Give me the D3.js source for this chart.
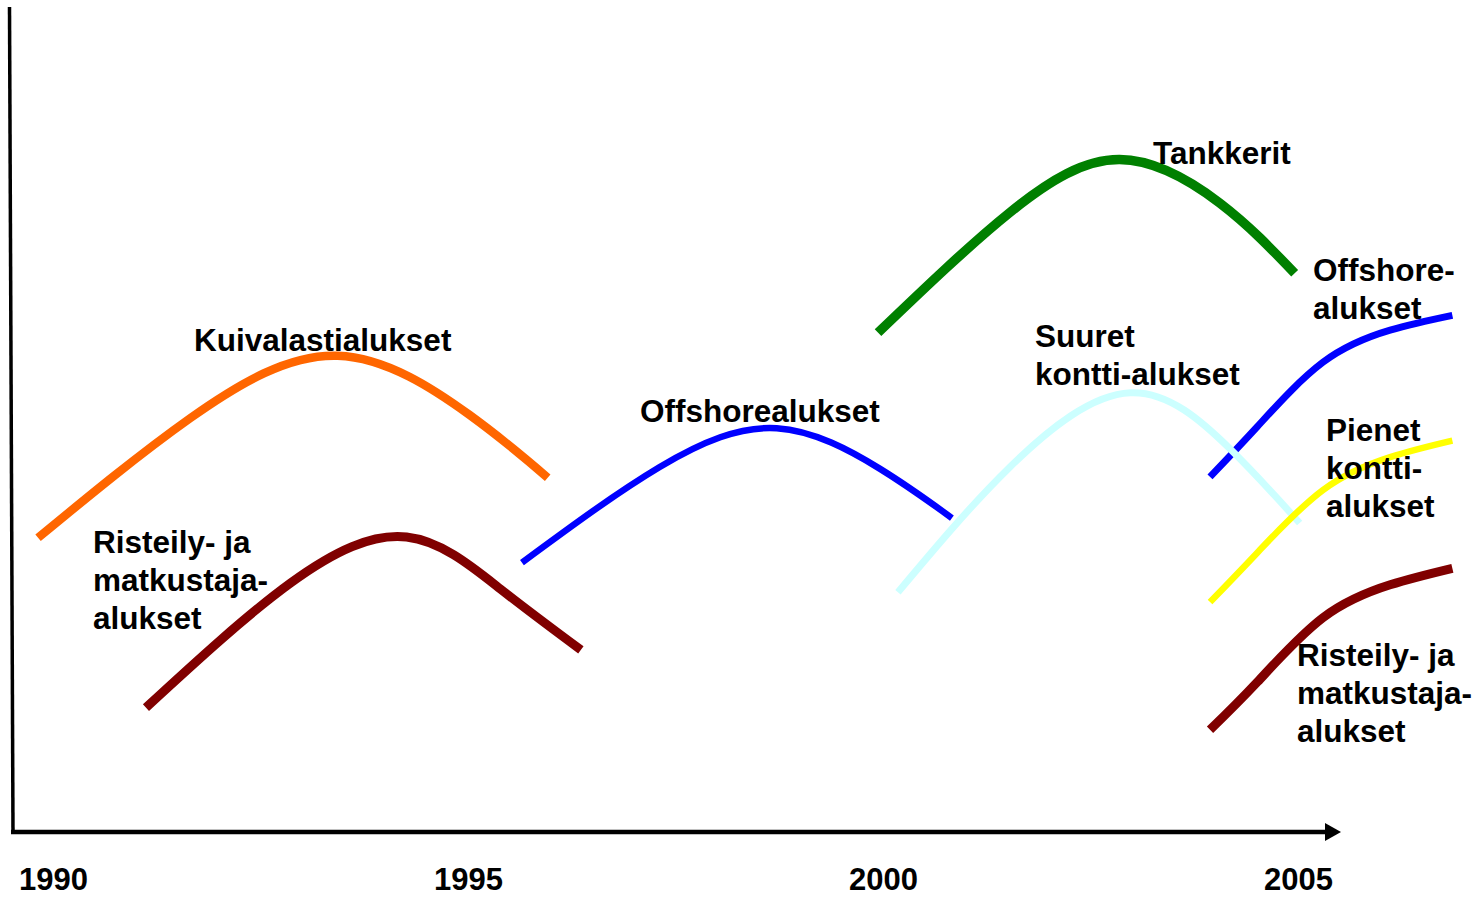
<!DOCTYPE html>
<html>
<head>
<meta charset="utf-8">
<script src="https://cdn.jsdelivr.net/npm/d3@7"></script>
<style>
  html, body { margin: 0; padding: 0; background: #fff; }
  svg { display: block; }
  text { font-family: "Liberation Sans", Arial, Helvetica, sans-serif; font-weight: bold; fill: #000; }
</style>
</head>
<body>
<svg id="chart" width="1480" height="897"></svg>
<script>
// ---- data: [year, index value] ----
const tickYears = [1990, 1995, 2000, 2005];
const tickLabels = ["1990", "1995", "2000", "2005"];

const kuivalastiYears  = [1989.82, 1991.65, 1993.43, 1995.02, 1995.96];
const kuivalastiValues = [35.7, 50.2, 57.8, 50.6, 43.0];

const risteily1Years  = [1991.12, 1992.86, 1994.26, 1995.39, 1996.36];
const risteily1Values = [15.1, 30.2, 35.8, 29.5, 22.1];

const offshore1Years  = [1995.65, 1997.31, 1998.72, 1999.96, 2000.83];
const offshore1Values = [32.7, 44.3, 49.0, 44.1, 38.1];

const tankkeritYears  = [1999.94, 2001.53, 2002.85, 2004.06, 2004.96];
const tankkeritValues = [60.6, 75.2, 81.6, 76.3, 67.8];

const suuretYears  = [2000.18, 2001.53, 2002.98, 2004.18, 2005.02];
const suuretValues = [29.1, 44.3, 53.3, 46.5, 37.5];

const offshore2Years  = [2003.94, 2004.51, 2005.30, 2006.11, 2006.86];
const offshore2Values = [43.1, 49.2, 57.0, 60.9, 62.7];

const pienetYears  = [2003.94, 2004.51, 2005.30, 2006.11, 2006.86];
const pienetValues = [27.9, 33.9, 41.5, 45.5, 47.5];

const risteily2Years  = [2003.94, 2004.51, 2005.30, 2006.11, 2006.86];
const risteily2Values = [12.4, 18.2, 26.0, 30.0, 32.0];

const seriesNames = ["Kuivalastialukset", "Risteily- ja matkustaja-alukset", "Offshorealukset", "Tankkerit",
                     "Offshore-alukset", "Suuret kontti-alukset", "Pienet kontti-alukset", "Risteily- ja matkustaja-alukset (2)"];

// ---- layout ----
const svg = d3.select("#chart");
const x = d3.scaleLinear().domain([1990, 2005]).range([53, 1298]);
const y = d3.scaleLinear().domain([0, 100]).range([832, 8]);

const zip = (xs, vs) => xs.map((d, i) => [d, vs[i]]);
const series = [
  { name: seriesNames[0], data: zip(kuivalastiYears, kuivalastiValues), color: "#FF6600", w: 8.5 },
  { name: seriesNames[1], data: zip(risteily1Years, risteily1Values), color: "#800000", w: 9 },
  { name: seriesNames[2], data: zip(offshore1Years, offshore1Values), color: "#0000FF", w: 6.5 },
  { name: seriesNames[3], data: zip(tankkeritYears, tankkeritValues), color: "#008000", w: 9.5 },
  { name: seriesNames[4], data: zip(offshore2Years, offshore2Values), color: "#0000FF", w: 7 },
  { name: seriesNames[5], data: zip(suuretYears, suuretValues), color: "#CCFFFF", w: 7 },
  { name: seriesNames[6], data: zip(pienetYears, pienetValues), color: "#FFFF00", w: 6.5 },
  { name: seriesNames[7], data: zip(risteily2Years, risteily2Values), color: "#800000", w: 9 }
];

const line = d3.line()
  .x(d => x(d[0]))
  .y(d => y(d[1]))
  .curve(d3.curveNatural);

svg.append("g").selectAll("path")
  .data(series)
  .join("path")
  .attr("d", d => line(d.data))
  .attr("fill", "none")
  .attr("stroke", d => d.color)
  .attr("stroke-width", d => d.w)
  .attr("stroke-linecap", "butt")
  .attr("stroke-linejoin", "round");

// ---- axes ----
svg.append("line")
  .attr("x1", 9.5).attr("y1", 7)
  .attr("x2", 13).attr("y2", 833)
  .attr("stroke", "#000").attr("stroke-width", 3.5);

svg.append("line")
  .attr("x1", 11).attr("y1", 832)
  .attr("x2", 1327).attr("y2", 832)
  .attr("stroke", "#000").attr("stroke-width", 4.5);

svg.append("path")
  .attr("d", "M1325,823 L1341,832 L1325,841 Z")
  .attr("fill", "#000");

// x tick labels through axis generator
const xAxis = d3.axisBottom(x)
  .tickValues(tickYears)
  .tickFormat((d, i) => tickLabels[i])
  .tickSize(0)
  .tickPadding(0);
const gx = svg.append("g").attr("transform", "translate(0,868)").call(xAxis);
gx.select(".domain").remove();
gx.selectAll("text")
  .attr("dy", "0.72em")
  .attr("font-size", 31)
  .style("font-family", '"Liberation Sans", Arial, sans-serif')
  .style("font-weight", "bold")
  .attr("fill", "#000");

// ---- labels ----
const labels = [
  { lines: ["Kuivalastialukset"], x: 194, y: 351 },
  { lines: ["Risteily- ja", "matkustaja-", "alukset"], x: 93, y: 553 },
  { lines: ["Offshorealukset"], x: 640, y: 422 },
  { lines: ["Tankkerit"], x: 1153, y: 164 },
  { lines: ["Suuret", "kontti-alukset"], x: 1035, y: 347 },
  { lines: ["Offshore-", "alukset"], x: 1313, y: 281 },
  { lines: ["Pienet", "kontti-", "alukset"], x: 1326, y: 441 },
  { lines: ["Risteily- ja", "matkustaja-", "alukset"], x: 1297, y: 666 }
];
const lh = 38;
const lg = svg.append("g");
labels.forEach(l => {
  const t = lg.append("text")
    .attr("x", l.x).attr("y", l.y)
    .attr("font-size", 31.5);
  l.lines.forEach((s, i) => {
    t.append("tspan").attr("x", l.x).attr("y", l.y + i * lh).text(s);
  });
});
</script>
</body>
</html>
